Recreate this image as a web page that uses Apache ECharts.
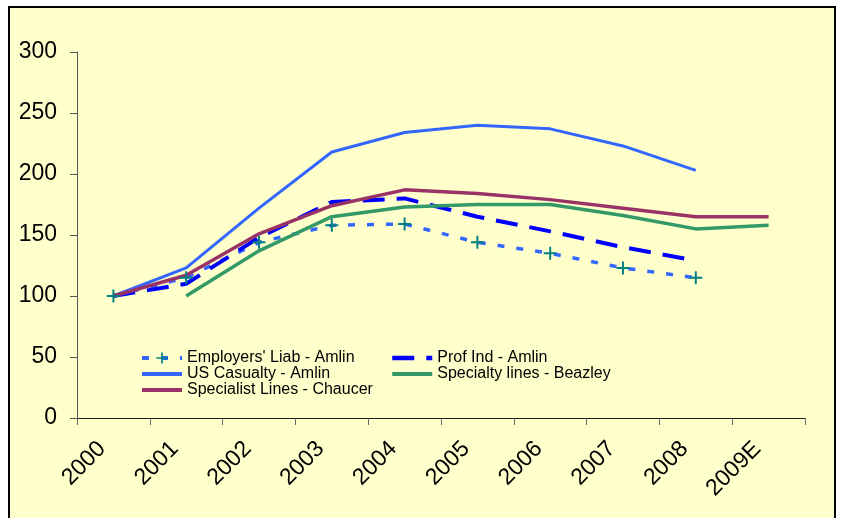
<!DOCTYPE html>
<html>
<head>
<meta charset="utf-8">
<script src="https://cdn.jsdelivr.net/npm/echarts@6/dist/echarts.min.js"></script>
<style>
html,body{margin:0;padding:0;background:#fff;}
#chart{width:841px;height:518px;}
</style>
</head>
<body>
<div id="chart"></div>
<script>
var categories = ['2000','2001','2002','2003','2004','2005','2006','2007','2008','2009E'];
var yTicks = [0, 50, 100, 150, 200, 250, 300];
var employersLiab = [100, 115, 144, 158, 159, 144, 135, 123, 115, null];
var profInd = [100, 110, 148, 177, 180, 165, 153, 140, 129, null];
var usCasualty = [100, 123, 172, 218, 234, 240, 237, 223, 203, null];
var specialtyLines = [null, 100, 137, 165, 173, 175, 175, 166, 155, 158];
var specialistLines = [100, 117, 151, 174, 187, 184, 179, 172, 165, 165];
var seriesNames = ["Employers' Liab - Amlin", 'Prof Ind - Amlin', 'US Casualty - Amlin', 'Specialty lines - Beazley', 'Specialist Lines - Chaucer'];

var FONT = '"Liberation Sans", Arial, sans-serif';
var plusPath = 'path://M4.25,0h1.5v4.25h4.25v1.5h-4.25v4.25h-1.5v-4.25h-4.25v-1.5h4.25z';

function legendItem(name, hideSymbol, width) {
  var o = {name: name, lineStyle: {width: width}};
  if (hideSymbol) { o.itemStyle = {opacity: 0}; }
  return o;
}

var chart = echarts.init(document.getElementById('chart'), null, {renderer: 'canvas'});
var legendCommon = {
  orient: 'vertical',
  itemGap: 0,
  itemWidth: 40,
  itemHeight: 14,
  padding: 0,
  selectedMode: false,
  textStyle: {fontFamily: FONT, fontSize: 16, color: '#000', lineHeight: 15}
};
chart.setOption({
  animation: false,
  backgroundColor: '#ffffff',
  textStyle: {fontFamily: FONT},
  graphic: [{
    type: 'rect',
    z: -10,
    silent: true,
    shape: {x: 9, y: 7, width: 826, height: 520},
    style: {fill: '#FFFFCC', stroke: '#000000', lineWidth: 2}
  }],
  grid: {left: 77, right: 36, top: 52, bottom: 100, containLabel: false},
  legend: [
    Object.assign({}, legendCommon, {left: 140, top: 350, data: [
      legendItem(seriesNames[0], false, 4), legendItem(seriesNames[2], true, 4), legendItem(seriesNames[4], true, 4)
    ]}),
    Object.assign({}, legendCommon, {left: 390, top: 350, data: [
      legendItem(seriesNames[1], true, 4.5), legendItem(seriesNames[3], true, 4)
    ]})
  ],
  xAxis: {
    type: 'category',
    data: categories,
    boundaryGap: true,
    axisLine: {show: true, lineStyle: {color: '#1a1a1a', width: 1}},
    axisTick: {show: true, length: 7, interval: 0, lineStyle: {color: '#666'}},
    axisLabel: {rotate: 45, interval: 0, margin: 16, padding: [0, 16, 0, 0], fontSize: 23, color: '#000', fontFamily: FONT},
    splitLine: {show: false}
  },
  yAxis: {
    type: 'value',
    min: yTicks[0],
    max: yTicks[yTicks.length - 1],
    interval: 50,
    axisLine: {show: true, lineStyle: {color: '#555', width: 1}},
    axisTick: {show: true, length: 7, lineStyle: {color: '#555'}},
    axisLabel: {margin: 20, fontSize: 23, color: '#000', fontFamily: FONT},
    splitLine: {show: false}
  },
  series: [
    {
      name: seriesNames[0], type: 'line', data: employersLiab,
      symbol: plusPath, symbolSize: 13, showSymbol: true,
      itemStyle: {color: '#008080'},
      lineStyle: {color: '#3366FF', width: 3.5, type: [7, 12]}
    },
    {
      name: seriesNames[1], type: 'line', data: profInd, symbol: 'none',
      itemStyle: {color: '#0000FF'},
      lineStyle: {color: '#0000FF', width: 4, type: [22, 12]}
    },
    {
      name: seriesNames[2], type: 'line', data: usCasualty, symbol: 'none',
      itemStyle: {color: '#3366FF'},
      lineStyle: {color: '#3366FF', width: 3}
    },
    {
      name: seriesNames[3], type: 'line', data: specialtyLines, symbol: 'none',
      itemStyle: {color: '#339966'},
      lineStyle: {color: '#339966', width: 3.5}
    },
    {
      name: seriesNames[4], type: 'line', data: specialistLines, symbol: 'none',
      itemStyle: {color: '#993366'},
      lineStyle: {color: '#993366', width: 3.5}
    }
  ]
});
</script>
</body>
</html>
